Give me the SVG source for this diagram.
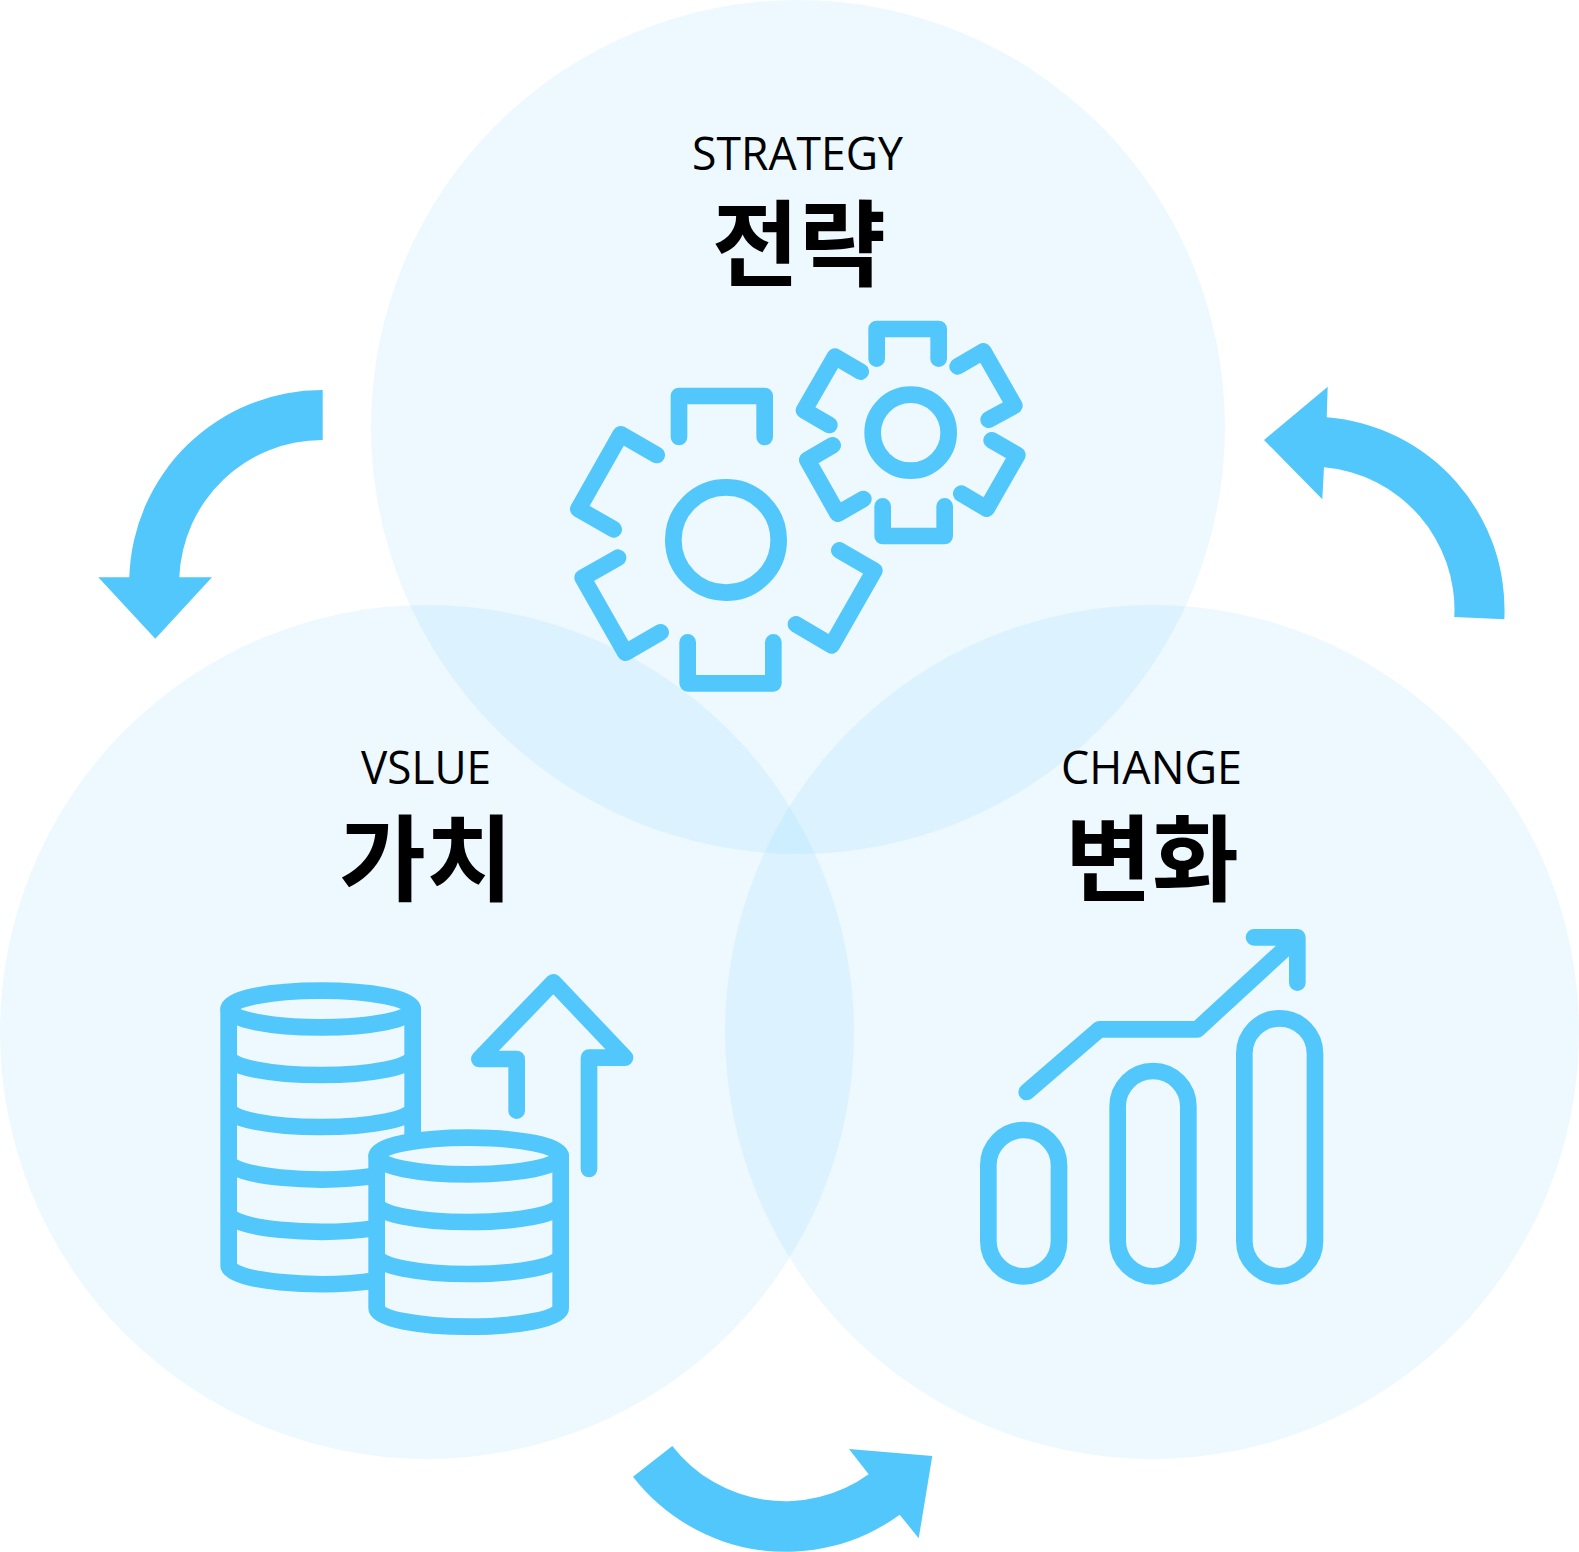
<svg xmlns="http://www.w3.org/2000/svg" width="1579" height="1552" viewBox="0 0 1579 1552">
<style>
.v{fill:#52c7fc;fill-opacity:.1}
.a{fill:#52c7fc}
.i{fill:none;stroke:#52c7fc;stroke-width:50;stroke-linecap:round;stroke-linejoin:round}
.en{font-family:"Open Sans","Liberation Sans",sans-serif;font-size:46px;fill:#000;text-anchor:start}
.ko{font-family:"Noto Sans CJK KR",sans-serif;font-size:94.5px;font-weight:700;fill:#000;text-anchor:middle}
</style>
<rect width="1579" height="1552" fill="#fff"/>
<g id="node-strategy">
<circle class="v" cx="798" cy="427" r="427"/>
<text class="en" x="692" y="170" textLength="211" lengthAdjust="spacingAndGlyphs">STRATEGY</text>
<text class="ko" x="799" y="279">전략</text>
<g transform="translate(550 300) scale(.33333)">
<path class="i" d="M370 720C370 633 441 562 528 562C615 562 686 633 686 720C686 807 615 878 528 878C441 878 370 807 370 720Z"/>
<path class="i" d="M387 411V288H644V411M320 465L212 403L85 627L191 688M204 773L98 833L226 1058L332 997M413 1027V1150H670V1027M738 973L845 1036L973 812L868 751"/>
<circle class="i" cx="1082" cy="398" r="114"/>
<path class="i" d="M980 176V87H1166V176M1223 199L1300 154L1393 317L1316 359M1325 421L1402 465L1310 626L1234 581M1184 619V708H998V619M940 597L863 641L772 480L848 436M932 215L855 170L762 331L838 375"/>
</g>
</g>
<g id="node-value">
<circle class="v" cx="427" cy="1032" r="427"/>
<text class="en" x="361" y="784" textLength="130" lengthAdjust="spacingAndGlyphs">VSLUE</text>
<text class="ko" x="426" y="894">가치</text>
<g transform="translate(200 960) scale(.33333)">
<ellipse class="i" cx="362" cy="147" rx="276" ry="55"/>
<path class="i" d="M86 147V917M638 147V525M86 290A276 55 0 0 0 638 290M86 446A276 55 0 0 0 638 446M86 603A276 55 0 0 0 530 646.600M86 760A276 55 0 0 0 530 803.600M86 917A276 55 0 0 0 530 960.600"/>
<ellipse class="i" cx="806" cy="588" rx="276" ry="55"/>
<path class="i" d="M530 588V1045M1082 588V1045M530 731A276 55 0 0 0 1082 731M530 887A276 55 0 0 0 1082 887M530 1045A276 55 0 0 0 1082 1045"/>
<path class="i" d="M950 452V297H838L1060 67L1275 293H1167V627"/>
</g>
</g>
<g id="node-change">
<circle class="v" cx="1152" cy="1032" r="427"/>
<text class="en" x="1061" y="784" textLength="181" lengthAdjust="spacingAndGlyphs">CHANGE</text>
<text class="ko" x="1152" y="894">변화</text>
<g transform="translate(960 910) scale(.33333)">
<rect class="i" x="85" y="660" width="212" height="439" rx="106"/>
<rect class="i" x="473" y="483" width="212" height="616" rx="106"/>
<rect class="i" x="853" y="325" width="212" height="774" rx="106"/>
<path class="i" d="M200 546L418 358H712L1012 82M882 82H1012V218"/>
</g>
</g>
<g id="connectors">
<path class="a" d="M322.7 390A193 193 0 0 0 129.3 577.3H98.3L155.3 638.7L212 577.3H179.3A143 143 0 0 1 322.7 440Z"/>
<path class="a" d="M1264 440L1327.7 386.7L1326.7 417.3A193 193 0 0 1 1504.3 619.3L1454.3 617A143 143 0 0 0 1324 467.3L1322.3 499.3Z"/>
<path class="a" d="M672.3 1446A143 143 0 0 0 868.7 1474.3L849 1449L932.3 1456L918.7 1538.3L899.7 1514.7A193 193 0 0 1 633 1476.7Z"/>
</g>
</svg>
